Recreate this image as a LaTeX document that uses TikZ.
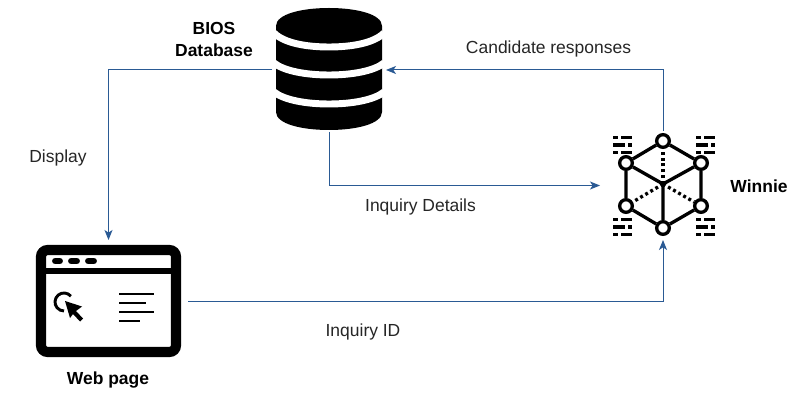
\documentclass[tikz,border=0pt]{standalone}
\usepackage{fontspec}
\setmainfont{Liberation Sans}
\usetikzlibrary{arrows.meta}
\definecolor{link}{HTML}{2A5A94}
\tikzset{
  px/.style={x=0.75pt,y=-0.75pt},
  lab/.style={font=\fontsize{13.1}{15}\selectfont,text=black!85,inner sep=0pt},
  blab/.style={font=\fontsize{13.1}{15}\selectfont\bfseries,text=black,inner sep=0pt},
  link/.style={draw=link,line width=0.75pt,-{Stealth[length=7.5pt,width=6pt,inset=2pt]}},
  hull/.style={draw=none,fill=none,inner sep=0pt,outer sep=0pt},
  edge3/.style={draw=black,line width=2.5pt},
  dots3/.style={draw=black,line width=2.5pt,dash pattern=on 2.2pt off 2.2pt},
  vert/.style={circle,draw=black,fill=white,line width=2.5pt,minimum size=9.5pt,inner sep=0pt},
  bits/.style={draw=black,line width=2.4pt},
  gapband/.style={draw=white,line width=5.2pt},
  textline/.style={draw=black,line width=1.6pt},
}
\newcommand{\bitglyph}[2]{%
  \begin{scope}[shift={(#1,#2)}]
    \draw[bits] (0,0)--(5,0) (8,0)--(19,0) (0,7.5)--(12,7.5) (15,7.5)--(19,7.5) (0,15)--(5,15) (8,15)--(19,15);
  \end{scope}}
\begin{document}
\begin{tikzpicture}[px]
\useasboundingbox (0,0) rectangle (795,409);
\fill[white] (0,0) rectangle (795,409);
% database
\fill[black] (276,26) .. controls (276,14) and (302,8) .. (329,8)
  .. controls (356,8) and (382,14) .. (382,26)
  -- (382,112) .. controls (382,124) and (356,130) .. (329,130)
  .. controls (302,130) and (276,124) .. (276,112) -- cycle;
\draw[gapband] (274,33) .. controls (284,43) and (306,47) .. (329,47) .. controls (352,47) and (374,43) .. (384,33);
\draw[gapband] (274,63) .. controls (284,71) and (306,75) .. (329,75) .. controls (352,75) and (374,71) .. (384,63);
\draw[gapband] (274,92) .. controls (284,100) and (306,104) .. (329,104) .. controls (352,104) and (374,100) .. (384,92);
\node[hull,minimum width=85.5pt,minimum height=93pt] (db) at (329,70) {};
% web page
\draw[black,line width=7.6pt,rounded corners=5pt] (41,250) rectangle (176,352);
\fill[black] (41,268) rectangle (176,274);
\foreach \xa/\xb in {55.5/59.5,71.5/76.5,88.5/93.5}{\draw[black,line width=5.2pt,line cap=round] (\xa,261)--(\xb,261);}
\draw[black,line width=2.2pt] (70.9,296.2) arc (-40:-270:9);
\fill[black] (65,301) -- (82,306.5) -- (76,311) -- (83,318.5) -- (80,321.5) -- (73,314) -- (70,318) -- cycle;
\draw[textline] (119,294)--(154,294) (119,303)--(146,303) (119,312)--(154,312) (119,321)--(140,321);
\node[hull,minimum width=119.25pt,minimum height=92.25pt] (web) at (108.5,301.5) {};
% cube
\coordinate (cc) at (663,184);
\node[vert] (vt) at (663,141) {};
\node[vert] (vul) at (626,163) {};
\node[vert] (vur) at (701,163) {};
\node[vert] (vll) at (626,206) {};
\node[vert] (vlr) at (701,206) {};
\node[vert] (vb) at (663,228) {};
\draw[edge3] (vt)--(vul) (vt)--(vur) (vul)--(vll) (vur)--(vlr) (vll)--(vb) (vlr)--(vb)
  (cc)--(vul) (cc)--(vur) (cc)--(vb);
\draw[dots3] (cc)--(vt);
\draw[dots3] (cc)--(vll);
\draw[dots3] (cc)--(vlr);
\bitglyph{613}{137.5}
\bitglyph{696}{137.5}
\bitglyph{613}{219.5}
\bitglyph{696}{219.5}
\node[hull,minimum width=94.5pt,minimum height=81.75pt] (win) at (663,185.5) {};
% connectors
\draw[link] (db.west) -| (web.north);
\draw[link] (win.north) |- (db.east);
\draw[link] (db.south) |- (win.west);
\draw[link] (web.east) -| (win.south);
% labels
\node[blab] (l1) at (214,28) {BIOS};
\node[blab] (l2) at (214,50) {Database};
\node[lab] (l3) at (548.5,49) {Candidate responses};
\node[lab] (l4) at (58,158) {Display};
\node[lab] (l5) at (420.5,207) {Inquiry Details};
\node[lab] (l6) at (363,332) {Inquiry ID};
\node[blab] (l7) at (108,380.5) {Web page};
\node[blab] (l8) at (759,186) {Winnie};
\end{tikzpicture}
\end{document}
